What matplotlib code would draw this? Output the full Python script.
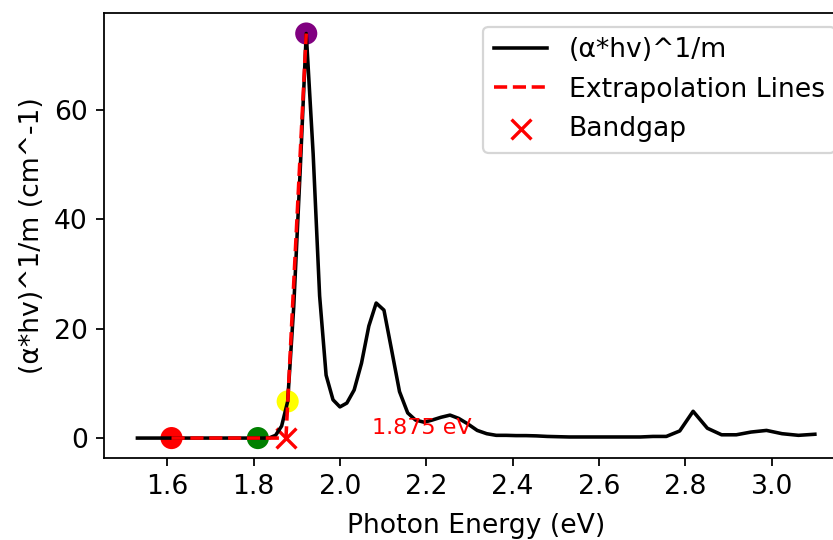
import matplotlib

matplotlib.use("Agg")
import matplotlib.pyplot as plt

# photon energy (eV) and Tauc values
energy = [
    1.531, 1.540, 1.550, 1.560, 1.570, 1.580, 1.590, 1.600, 1.610, 1.621,
    1.632, 1.642, 1.653, 1.664, 1.676, 1.687, 1.699, 1.710, 1.722, 1.734,
    1.746, 1.759, 1.771, 1.784, 1.797, 1.810, 1.824, 1.837, 1.851, 1.865,
    1.879, 1.893, 1.908, 1.922, 1.938, 1.953, 1.968, 1.984, 2.000, 2.016,
    2.033, 2.050, 2.067, 2.084, 2.102, 2.120, 2.138, 2.157, 2.175, 2.195,
    2.214, 2.234, 2.255, 2.275, 2.296, 2.318, 2.340, 2.362, 2.385, 2.408,
    2.431, 2.455, 2.480, 2.505, 2.531, 2.557, 2.583, 2.611, 2.638, 2.667,
    2.696, 2.725, 2.756, 2.787, 2.818, 2.851, 2.884, 2.918, 2.952, 2.988,
    3.024, 3.062, 3.100,
]
tauc = [
    0.0, 0.0, 0.0, 0.0, 0.0, 0.0, 0.0, 0.0, 0.0, 0.0,
    0.0, 0.0, 0.0, 0.0, 0.0, 0.0, 0.0, 0.0, 0.0, 0.0,
    0.0, 0.0, 0.0, 0.0, 0.0, 0.0, 0.0, 0.05, 0.5, 2.2,
    6.7, 24.0, 49.0, 74.0, 52.0, 26.0, 11.5, 7.0, 5.7, 6.4,
    8.8, 13.7, 20.5, 24.7, 23.4, 16.0, 8.5, 4.6, 3.3, 2.9,
    3.3, 3.8, 4.2, 3.6, 2.6, 1.4, 0.8, 0.5, 0.5, 0.45,
    0.45, 0.4, 0.3, 0.25, 0.2, 0.2, 0.2, 0.2, 0.2, 0.2,
    0.2, 0.3, 0.3, 1.3, 4.9, 1.8, 0.6, 0.6, 1.1, 1.4,
    0.8, 0.5, 0.7,
]

# fit points used for the extrapolation
point_energy = [1.610, 1.810, 1.879, 1.922]
point_value = [0.0, 0.0, 6.7, 74.0]
point_colors = ["red", "green", "yellow", "purple"]

bandgap = 1.875
extrap_energy = [1.610, bandgap, 1.922]
extrap_value = [0.0, 0.0, 74.0]

plt.rcParams["font.size"] = 12

DPI = 160
fig = plt.figure(figsize=(833 / DPI, 540 / DPI), dpi=DPI)
ax = fig.add_axes([0.1243, 0.1513, 0.8946, 0.8241])

ax.plot(energy, tauc, color="black", linewidth=1.6, label="(α*hv)^1/m")
ax.plot(extrap_energy, extrap_value, "r--", linewidth=1.6, label="Extrapolation Lines")
ax.scatter(point_energy, point_value, c=point_colors, s=80)
ax.scatter([bandgap], [0], color="red", marker="x", s=80, label="Bandgap")
ax.text(bandgap + 0.2, 0.8, f"{bandgap:.3f} eV", color="red", fontsize=10)

ax.set_xlabel("Photon Energy (eV)", labelpad=6)
ax.set_ylabel("(α*hv)^1/m (cm^-1)")
ax.legend(loc="upper right")

fig.savefig("out.png", dpi=DPI)
plt.close(fig)
